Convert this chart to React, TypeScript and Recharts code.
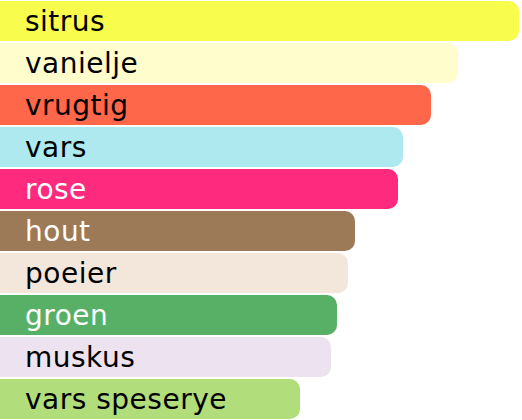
import React from 'react';
import { BarChart, Bar, XAxis, YAxis, Cell, LabelList } from 'recharts';

// Scent families, longest bar first
const notes = ['sitrus', 'vanielje', 'vrugtig', 'vars', 'rose', 'hout', 'poeier', 'groen', 'muskus', 'vars speserye'];
const strengths = [519, 458, 431, 403, 398, 355, 348, 337, 331, 300];
const fills = ['#F8FC4C', '#FEFDCB', '#FE6749', '#AEE9EF', '#FE2A7E', '#9C7A57', '#F3E6DB', '#58B066', '#EDE2EF', '#B1DE7A'];
const labelColors = ['#000', '#000', '#000', '#000', '#fff', '#fff', '#000', '#fff', '#000', '#000'];

const data = notes.map((note, i) => ({ note, value: strengths[i] }));

const NoteLabel = (props: any) => {
  const { x, y, height, index, value } = props;
  return (
    <text
      x={x + 25}
      y={y + height / 2}
      dy="0.34em"
      fill={labelColors[index]}
      fontSize={28}
      letterSpacing={0.5}
      fontFamily="'DejaVu Sans', sans-serif"
    >
      {value}
    </text>
  );
};

export default function App() {
  return (
    <div style={{ position: 'fixed', top: 0, left: 0, width: 522, height: 420, background: '#fff' }}>
      <BarChart
        width={522}
        height={420}
        data={data}
        layout="vertical"
        margin={{ top: 0, right: 0, bottom: 0, left: 0 }}
        barCategoryGap={1}
      >
        <XAxis type="number" domain={[0, 522]} hide />
        <YAxis type="category" dataKey="note" hide />
        <Bar dataKey="value" radius={[0, 10, 10, 0]} isAnimationActive={false}>
          {data.map((d, i) => (
            <Cell key={d.note} fill={fills[i]} />
          ))}
          <LabelList dataKey="note" content={<NoteLabel />} />
        </Bar>
      </BarChart>
    </div>
  );
}
